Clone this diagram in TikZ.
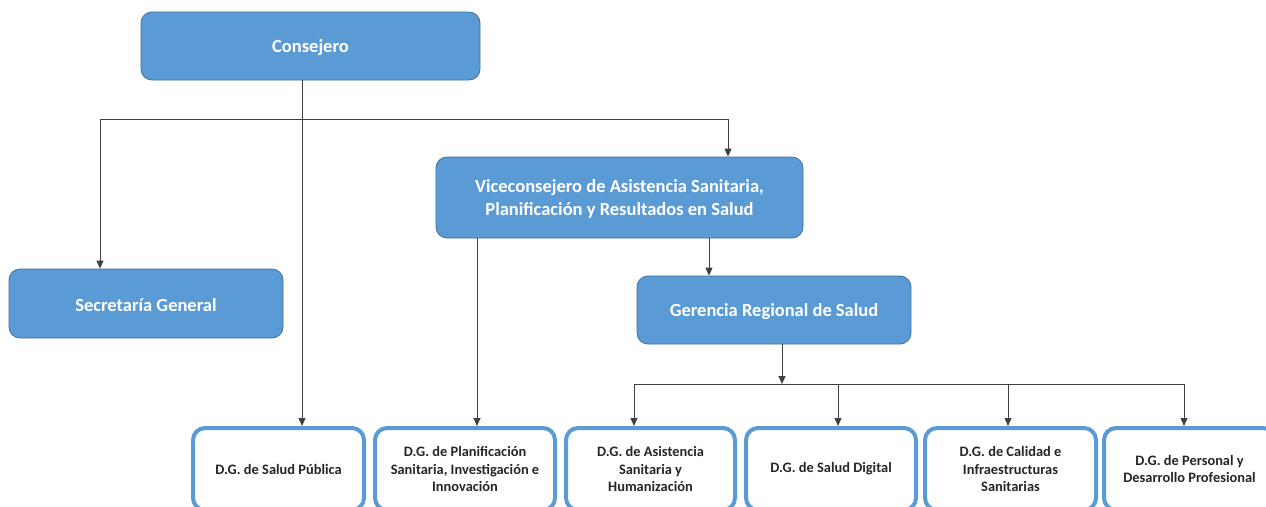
\documentclass[tikz,border=0pt]{standalone}
\usepackage{fontspec}
\setmainfont{Carlito}
\usetikzlibrary{arrows.meta}
\definecolor{boxblue}{HTML}{5B9BD5}
\definecolor{boxedge}{HTML}{41719C}
\definecolor{linegray}{HTML}{404040}
\definecolor{txtdark}{HTML}{262626}
\newcommand{\lowtext}[1]{\raisebox{-2pt}[\height][\depth]{#1}}
\begin{document}
\begin{tikzpicture}[x=1pt,y=-1pt,
  topbox/.style={rectangle, rounded corners=11pt, fill=boxblue, draw=boxedge, line width=0.8pt,
    text=white, font=\bfseries\fontsize{18.5}{23.5}\selectfont, align=center, inner sep=0pt},
  dgbox/.style={rectangle, rounded corners=12pt, fill=white, draw=boxblue, line width=4pt,
    text=txtdark, font=\bfseries\fontsize{14.4}{17.6}\selectfont, align=center, inner sep=0pt,
    minimum width=171pt, minimum height=82pt},
  conn/.style={draw=linegray, line width=0.9pt},
  arr/.style={conn, -{Triangle[width=7pt,length=8pt]}}
]
\clip (0,0) rectangle (1266,506);
\fill[white] (0,0) rectangle (1266,506);

% top-level boxes
\node[topbox, minimum width=339pt, minimum height=68pt] (cons) at (310.5,46) {\lowtext{Consejero}};
\node[topbox, minimum width=367pt, minimum height=81pt] (vice) at (619.5,197.5)
  {\lowtext{\begin{tabular}{@{}c@{}}Viceconsejero de Asistencia Sanitaria,\\Planificación y Resultados en Salud\end{tabular}}};
\node[topbox, minimum width=274pt, minimum height=69pt] (sec) at (146,303.5) {\lowtext{Secretaría General}};
\node[topbox, minimum width=274pt, minimum height=68pt] (ger) at (774,310) {\lowtext{Gerencia Regional de Salud}};

% bottom boxes (cut at the lower edge)
\node[dgbox, minimum width=171pt] (d1) at (278.5,469) {D.G. de Salud Pública};
\node[dgbox, minimum width=180pt] (d2) at (465,469) {D.G. de Planificación\\Sanitaria, Investigación e\\Innovación};
\node[dgbox, minimum width=169pt] (d3) at (650.5,469) {D.G. de Asistencia\\Sanitaria y\\Humanización};
\node[dgbox, minimum width=170pt] (d4) at (831,469) {D.G. de Salud Digital};
\node[dgbox, minimum width=171pt] (d5) at (1010.5,469) {D.G. de Calidad e\\Infraestructuras\\Sanitarias};
\node[dgbox, minimum width=171pt] (d6) at (1189.5,469) {D.G. de Personal y\\Desarrollo Profesional};

% junction coordinates
\coordinate (jc) at (302,119);
\coordinate (jl) at (100,119);
\coordinate (jr) at (728,119);
\coordinate (vl) at (477,238);
\coordinate (vr) at (709,238);
\coordinate (gm) at (782,384);
\coordinate (b3) at (634,384);
\coordinate (b4) at (838,384);
\coordinate (b5) at (1008,384);
\coordinate (b6) at (1184,384);

% Consejero connectors
\draw[conn] (jc |- cons.south) -- (jc);
\draw[conn] (jl) -- (jr);
\draw[arr] (jl) -- (jl |- sec.north);
\draw[arr] (jc) -- (jc |- d1.north);
\draw[arr] (jr) -- (jr |- vice.north);

% Viceconsejero connectors
\draw[arr] (vl |- vice.south) -- (vl |- d2.north);
\draw[arr] (vr |- vice.south) -- (vr |- ger.north);

% Gerencia connectors
\draw[arr] (gm |- ger.south) -- (gm);
\draw[conn] (b3) -- (b6);
\draw[arr] (b3) -- (b3 |- d3.north);
\draw[arr] (b4) -- (b4 |- d4.north);
\draw[arr] (b5) -- (b5 |- d5.north);
\draw[arr] (b6) -- (b6 |- d6.north);
\end{tikzpicture}
\end{document}
